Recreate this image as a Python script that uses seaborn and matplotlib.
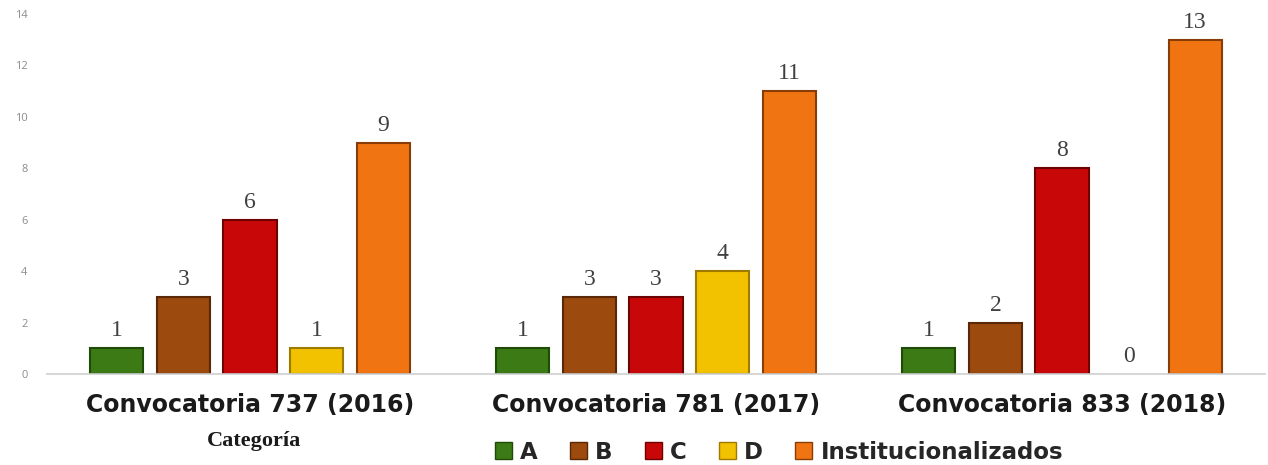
import pandas as pd
import matplotlib.pyplot as plt
import seaborn as sns

# data
convocatorias = ['Convocatoria 737 (2016)', 'Convocatoria 781 (2017)', 'Convocatoria 833 (2018)']
categorias = ['A', 'B', 'C', 'D', 'Institucionalizados']
valores_a = [1, 1, 1]
valores_b = [3, 3, 2]
valores_c = [6, 3, 8]
valores_d = [1, 4, 0]
valores_inst = [9, 11, 13]
y_ticks = [0, 2, 4, 6, 8, 10, 12, 14]

colores = ['#3b7a14', '#9c4a0e', '#c80808', '#f2c200', '#f07512']
bordes = ['#1f4a08', '#5a2806', '#6e0202', '#a07a00', '#8a3c06']

series = [valores_a, valores_b, valores_c, valores_d, valores_inst]
rows = []
for cat, vals in zip(categorias, series):
    for conv, v in zip(convocatorias, vals):
        rows.append({'Convocatoria': conv, 'Categoria': cat, 'Valor': v})
df = pd.DataFrame(rows)

sns.set_theme(style='white')
plt.rcParams['font.family'] = ['DejaVu Sans']

fig = plt.figure(figsize=(12.68, 4.65), dpi=100)
ax = fig.add_axes([47 / 1268, 1 - 374 / 465, (1265 - 47) / 1268, 360 / 465])

sns.barplot(data=df, x='Convocatoria', y='Valor', hue='Categoria',
            order=convocatorias, hue_order=categorias, palette=colores,
            saturation=1, width=0.82, gap=0.2, ax=ax, legend=False)

# darker edges to hint at the bevelled look
for i, cont in enumerate(ax.containers):
    for bar in cont:
        bar.set_edgecolor(bordes[i])
        bar.set_linewidth(1.5 if bar.get_height() > 0 else 0)
    ax.bar_label(cont, padding=5, fontsize=17, color='#404040',
                 family=['Liberation Serif', 'DejaVu Serif'])

ax.set_ylim(0, 14)
ax.set_yticks(y_ticks)
ax.set_yticklabels([str(t) for t in y_ticks], fontsize=8, color='#8c8c8c',
                   family=['Open Sans', 'DejaVu Sans'])
ax.tick_params(axis='y', length=0, pad=14)
ax.tick_params(axis='x', length=0, pad=14)
ax.set_xticks(range(len(convocatorias)))
ax.set_xticklabels(convocatorias, fontsize=17, fontweight='bold', color='#1a1a1a')
ax.set_xlabel('')
ax.set_ylabel('')
for s in ['top', 'right', 'left']:
    ax.spines[s].set_visible(False)
ax.spines['bottom'].set_color('#d0d0d0')
ax.spines['bottom'].set_linewidth(1.2)

fig.text(254 / 1268, 1 - 441 / 465, 'Categoría', ha='center', va='center',
         fontsize=16, fontweight='bold', color='#1a1a1a',
         family=['Liberation Serif', 'DejaVu Serif'])

handles = [plt.Rectangle((0, 0), 1, 1, facecolor=c, edgecolor=b) for c, b in zip(colores, bordes)]
fig.legend(handles, categorias, loc='center', bbox_to_anchor=(779 / 1268, 1 - 452 / 465),
           ncol=5, frameon=False, handlelength=0.75, handleheight=0.75, handletextpad=0.35,
           columnspacing=1.4, prop={'size': 16.5, 'weight': 'bold'})

fig.savefig('out.png', dpi=100)
